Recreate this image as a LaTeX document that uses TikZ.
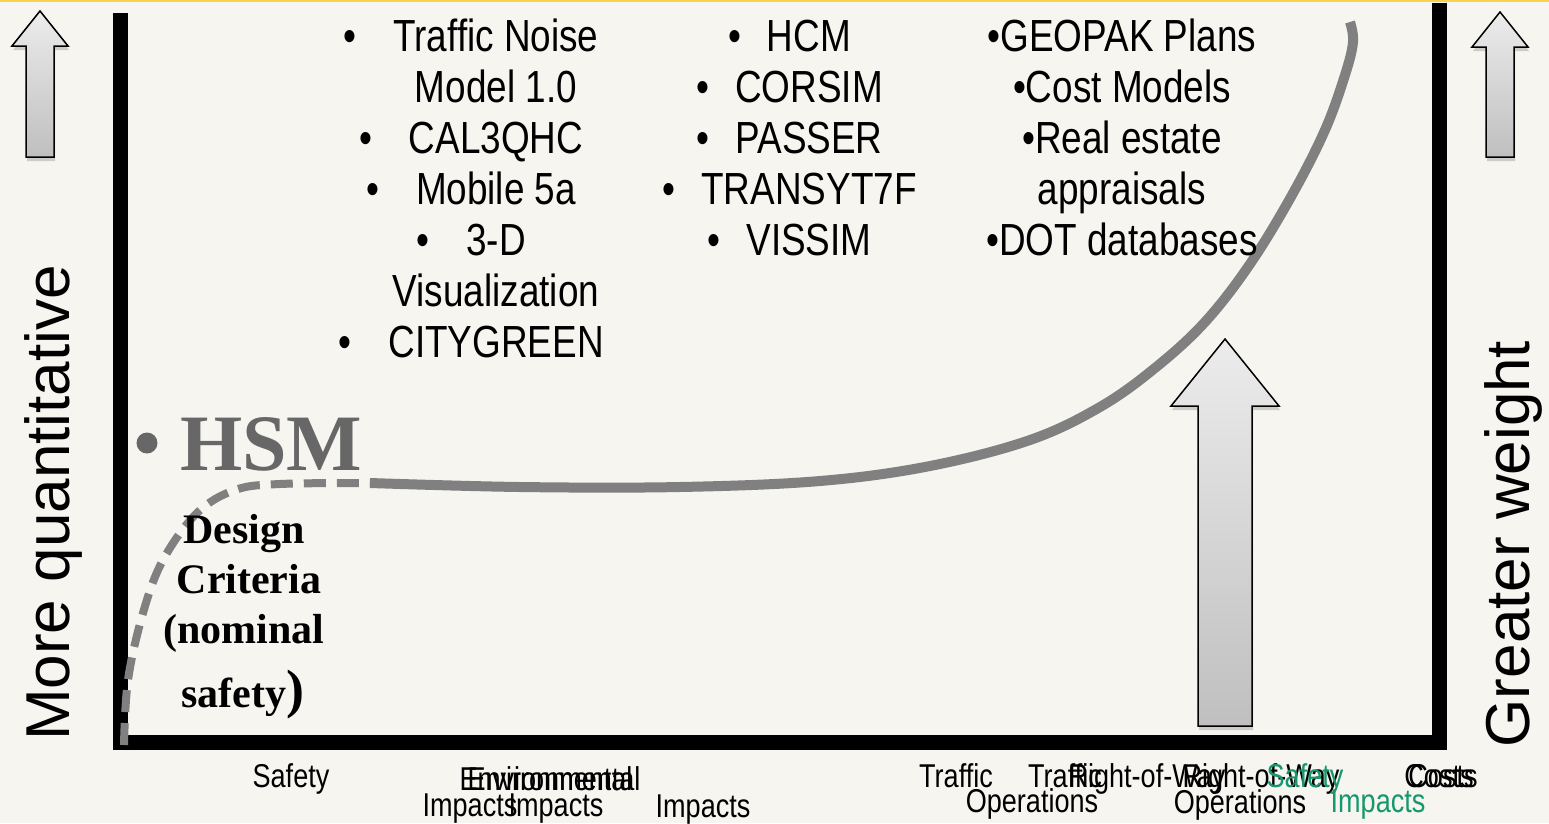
\documentclass[tikz,border=0pt]{standalone}
\usepackage{fontspec}
\setmainfont{Liberation Sans}
\newfontfamily\narrowfont[FakeStretch=0.82]{Liberation Sans}
\newfontfamily\timesfont{Liberation Serif}
\usetikzlibrary{positioning,shadows}

\definecolor{paper}{HTML}{F7F5F0}
\definecolor{curvegray}{HTML}{808080}
\definecolor{hsmgray}{HTML}{676767}
\definecolor{tealgreen}{HTML}{17976F}
\definecolor{topyellow}{HTML}{F6D348}

\tikzset{
  axisbar/.style={line width=15pt, draw=black, line join=miter},
  blockarrow/.style={draw=black, line width=1.5pt, top color=gray!15, bottom color=gray!50,
    drop shadow={shadow xshift=1pt, shadow yshift=-4pt, opacity=0.35}},
  toolitem/.style={font=\narrowfont\fontsize{45}{45}\selectfont, anchor=base, inner sep=0pt},
  catlabel/.style={font=\narrowfont\fontsize{33}{33}\selectfont, anchor=base, inner sep=0pt},
  sidelabel/.style={font=\fontsize{62}{62}\selectfont, rotate=90, anchor=base, inner sep=0pt},
  criteria/.style={font=\timesfont\bfseries\fontsize{42}{42}\selectfont, anchor=base, inner sep=0pt},
  solidcurve/.style={draw=curvegray, line width=10pt},
  dashcurve/.style={draw=curvegray, line width=8pt, dash pattern=on 22pt off 11pt}
}

\begin{document}
\begin{tikzpicture}[x=1pt, y=-1pt]

% Page and top strip
\fill[paper] (0,0) rectangle (1549,823);
\useasboundingbox (0,0) rectangle (1549,823);
\fill[topyellow] (0,0) rectangle (1549,2);
\fill[gray!8] (0,2) rectangle (1549,6);

% Axes
\coordinate (ytop) at (120.5,13);
\coordinate (origin) at (120.5,742.5);
\coordinate (xend) at (1439.5,742.5);
\coordinate (wtop) at (1439.5,3);
\draw[axisbar] (ytop) -- (origin) -- (xend) -- (wtop);

% Block arrows
\foreach \cx/\tip/\neck/\hw/\sw/\bot in {40/11/46/28/14/157, 1500/12/47/28/14/157, 1225/339/406/54/27/726}
{
    \path[blockarrow] (\cx,\tip) -- ({\cx+\hw},\neck) -- ({\cx+\sw},\neck) -- ({\cx+\sw},\bot)
        -- ({\cx-\sw},\bot) -- ({\cx-\sw},\neck) -- ({\cx-\hw},\neck) -- cycle;
}

% Curve
\draw[dashcurve] plot[smooth, tension=0.6] coordinates
    {(124,745) (128,680) (143,613) (163,560) (197,513) (235,490) (280,484) (370,483)};
\draw[solidcurve] plot[smooth, tension=0.6] coordinates
    {(370,483) (520,487) (680,487) (820,481) (930,466) (1030,440) (1100,407) (1155,368)
     (1205,322) (1250,264) (1292,195) (1325,130) (1345,75) (1353,42) (1350,22)};

% Side labels
\node[sidelabel] (quant) at (69,503) {More quantitative};
\node[sidelabel] (weight) at (1529,544) {Greater weight};

% Tools, first column
\foreach \txt/\dot [count=\i] in {Traffic Noise/1, Model 1.0/0, CAL3QHC/1, Mobile 5a/1, 3-D/1, Visualization/0, CITYGREEN/1}
{
    \node[toolitem] (envtool-\i) at (496,{51*\i}) {\txt};
    \ifnum\dot=1
        \node[toolitem] (envdot-\i) at ([xshift=-43pt]envtool-\i.base west) {\textbullet};
    \fi
}

% Tools, second column
\foreach \txt [count=\i] in {HCM, CORSIM, PASSER, TRANSYT7F, VISSIM}
{
    \node[toolitem] (opstool-\i) at (809,{51*\i}) {\txt};
    \node[toolitem] (opsdot-\i) at ([xshift=-32pt]opstool-\i.base west) {\textbullet};
}

% Tools, third column
\foreach \txt [count=\i] in {\textbullet GEOPAK Plans, \textbullet Cost Models, \textbullet Real estate, appraisals, \textbullet DOT databases}
{
    \node[toolitem] (rowtool-\i) at (1122,{51*\i}) {\txt};
}

% HSM
\node[font=\timesfont\bfseries\fontsize{80}{80}\selectfont, text=hsmgray, anchor=base west, inner sep=0pt]
    (hsm) at (180,470) {HSM};
\fill[hsmgray] (147,443) circle (10.5);

% Design criteria
\node[criteria] (crit-1) at (244,543) {Design};
\node[criteria] (crit-2) at (249,593) {Criteria};
\node[criteria] (crit-3) at (244,643) {(nominal};
\node[criteria] (crit-4) at (243,707) {safety{\fontsize{54}{54}\selectfont)}};

% Category labels
\node[catlabel] (cat-1) at (291,787) {Safety};
\node[catlabel] (cat-2) at (546,790) {Environmental};
\node[catlabel] (cat-3) at (554,790) {Environmental};
\node[catlabel] (cat-4) at (470,816) {Impacts};
\node[catlabel] (cat-5) at (556,816) {Impacts};
\node[catlabel] (cat-6) at (703,817) {Impacts};
\node[catlabel] (cat-7) at (956,787) {Traffic};
\node[catlabel] (cat-8) at (1065,787) {Traffic};
\node[catlabel] (cat-9) at (1032,812) {Operations};
\node[catlabel] (cat-10) at (1147,787) {Right-of-Way};
\node[catlabel] (cat-11) at (1261,787) {Right-of-Way};
\node[catlabel] (cat-12) at (1240,813) {Operations};
\node[catlabel, text=tealgreen] (cat-13) at (1305,787) {Safety};
\node[catlabel, text=tealgreen] (cat-14) at (1378,812) {Impacts};
\node[catlabel] (cat-15) at (1439,787) {Costs};
\node[catlabel] (cat-16) at (1443,787) {Costs};

\end{tikzpicture}
\end{document}
